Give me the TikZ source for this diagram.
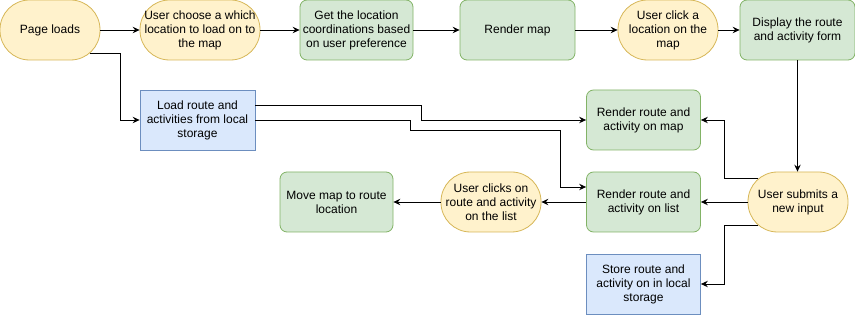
\documentclass[tikz,border=0pt]{standalone}
\usepackage{fontspec}
\setmainfont{Liberation Sans}
\usetikzlibrary{arrows.meta,calc}

\definecolor{yfill}{HTML}{FFF2CC}
\definecolor{ydraw}{HTML}{D6B656}
\definecolor{gfill}{HTML}{D5E8D4}
\definecolor{gdraw}{HTML}{82B366}
\definecolor{bfill}{HTML}{DAE8FC}
\definecolor{bdraw}{HTML}{6C8EBF}

\tikzset{
  box/.style={minimum height=60pt, align=center, inner sep=2pt, line width=0.8pt, font=\fontsize{12}{14}\selectfont},
  event/.style={box, fill=yfill, draw=ydraw, rounded corners=29.5pt},
  action/.style={box, fill=gfill, draw=gdraw, rounded corners=7pt},
  storage/.style={box, fill=bfill, draw=bdraw},
  flow/.style={line width=0.8pt, -{Stealth[length=7pt,width=6.5pt,inset=2.5pt]}},
}

\begin{document}
\begin{tikzpicture}[x=1pt,y=-1pt]
\useasboundingbox (0,0) rectangle (855,315);

%top row: loading the map
\node[event, minimum width=100pt] (page) at (50,30) {Page loads};
\node[event, minimum width=120pt] (choose) at (200,30) {User choose a which\\location to load on to\\the map};
\node[action, minimum width=113pt] (coords) at (356.5,30) {Get the location\\coordinations based\\on user preference};
\node[action, minimum width=115pt] (rmap) at (517.5,30) {Render map};
\node[event, minimum width=100pt] (click) at (668,30) {User click a\\location on the\\map};
\node[action, minimum width=115pt] (form) at (797.5,30) {Display the route\\and activity form};

%middle and bottom rows
\node[storage, minimum width=115pt] (load) at (197.5,120) {Load route and\\activities from local\\storage};
\node[action, minimum width=114pt] (onmap) at (643.5,120) {Render route and\\activity on map};
\node[event, minimum width=100pt] (submit) at (798,202) {User submits a\\new input};
\node[action, minimum width=114pt] (onlist) at (643.5,202) {Render route and\\activity on list};
\node[event, minimum width=100pt] (clicks) at (491,202) {User clicks on\\route and activity\\on the list};
\node[action, minimum width=113pt] (move) at (336.5,202) {Move map to route\\location};
\node[storage, minimum width=114pt] (store) at (643.5,284) {Store route and\\activity on in local\\storage};

%straight arrows
\draw[flow] (page) -- (choose);
\draw[flow] (choose) -- (coords);
\draw[flow] (coords) -- (rmap);
\draw[flow] (rmap) -- (click);
\draw[flow] (click) -- (form);
\draw[flow] (form.south) -- (form.south |- submit.north);
\draw[flow] (submit) -- (onlist);
\draw[flow] (onlist) -- (clicks);
\draw[flow] (clicks) -- (move);

%elbow arrows
\draw[flow] ($(page.south east)+(-10.7,-7)$) -| (120,120) -- (load.west);
\draw[flow] ($(load.east)+(0,-15)$) -| (421,120) -- (onmap.west);
\draw[flow] (load.east) -| (410,130) -| ($(onlist.west)+(-26,-15)$) -- ($(onlist.west)+(0,-15)$);
\draw[flow] ($(submit.north west)+(10.7,7)$) -| (724,120) -- (onmap.east);
\draw[flow] ($(submit.south west)+(10.7,-7)$) -| (724,284) -- (store.east);
\end{tikzpicture}
\end{document}
